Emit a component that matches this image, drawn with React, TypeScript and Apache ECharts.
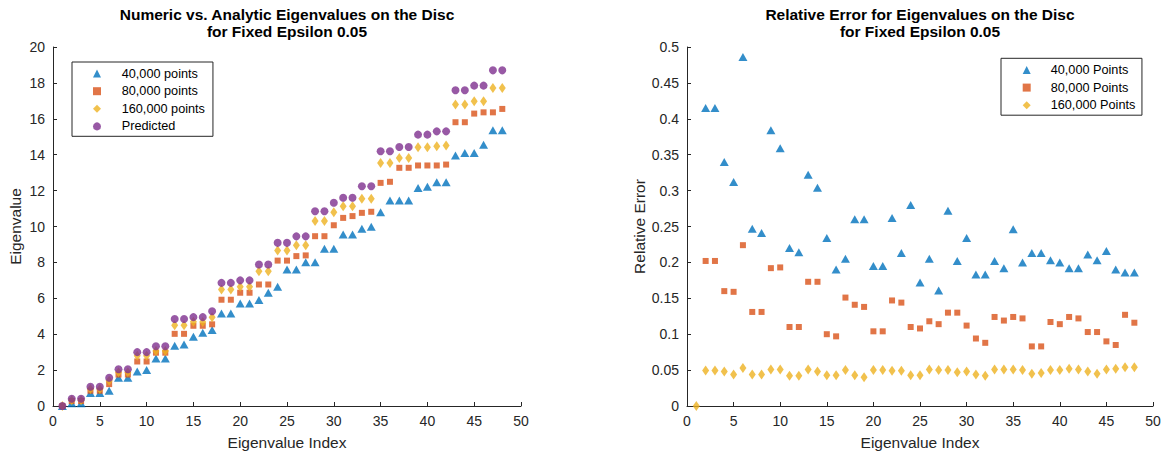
import React, { useEffect, useRef } from "react";
import * as echarts from "echarts";

const FONT = "'Liberation Sans', Arial, Helvetica, sans-serif";
const INK = "#262626";

const indices = [
  1, 2, 3, 4, 5, 6, 7, 8, 9, 10, 11, 12, 13, 14, 15, 16, 17, 18, 19, 20, 21, 22, 23, 24,
  25, 26, 27, 28, 29, 30, 31, 32, 33, 34, 35, 36, 37, 38, 39, 40, 41, 42, 43, 44, 45, 46, 47, 48,
];

// Left chart: eigenvalues
const eig40k = [
  0, 0.15, 0.15, 0.72, 0.72, 0.85, 1.58, 1.58, 1.92, 2.0, 2.65, 2.65, 3.35, 3.42, 3.86, 4.08,
  4.23, 5.16, 5.16, 5.71, 5.71, 5.9, 6.31, 6.64, 7.61, 7.61, 8.01, 8.01, 8.76, 8.76, 9.55, 9.55,
  9.87, 9.98, 10.8, 11.45, 11.45, 11.45, 12.15, 12.21, 12.47, 12.47, 13.95, 14.1, 14.1, 14.56, 15.36, 15.36,
];
const eig80k = [
  0, 0.28, 0.28, 0.85, 0.85, 1.22, 1.75, 1.75, 2.48, 2.48, 2.97, 2.97, 4.02, 4.02, 4.47, 4.47,
  4.55, 5.92, 5.92, 6.31, 6.31, 6.77, 6.77, 8.1, 8.1, 8.35, 8.39, 9.46, 9.46, 10.07, 10.48, 10.58,
  10.76, 10.82, 12.43, 12.49, 13.27, 13.27, 13.4, 13.4, 13.4, 13.45, 15.81, 15.81, 16.29, 16.36, 16.36, 16.55,
];
const eig160k = [
  0, 0.32, 0.32, 0.95, 0.95, 1.4, 1.88, 1.88, 2.8, 2.8, 3.06, 3.06, 4.5, 4.5, 4.7, 4.68,
  4.95, 6.49, 6.49, 6.64, 6.64, 7.51, 7.51, 8.66, 8.66, 8.96, 8.96, 10.3, 10.3, 10.8, 11.13, 11.13,
  11.54, 11.54, 13.54, 13.54, 13.82, 13.82, 14.42, 14.42, 14.47, 14.51, 16.79, 16.79, 16.98, 16.98, 17.72, 17.72,
];
const eigPredicted = [
  0, 0.4, 0.4, 1.07, 1.07, 1.57, 2.05, 2.05, 3.0, 3.0, 3.33, 3.33, 4.85, 4.85, 4.95, 4.95,
  5.28, 6.86, 6.86, 7.0, 7.0, 7.88, 7.88, 9.09, 9.09, 9.45, 9.45, 10.85, 10.85, 11.32, 11.6, 11.6,
  12.24, 12.24, 14.19, 14.19, 14.43, 14.43, 15.12, 15.12, 15.3, 15.3, 17.59, 17.59, 17.85, 17.85, 18.7, 18.7,
];

// Right chart: relative errors
const err40k = [
  null, 0.415, 0.415, 0.34, 0.312, 0.486, 0.247, 0.241, 0.384, 0.359, 0.22, 0.214, 0.322, 0.304, 0.234, 0.19,
  0.205, 0.26, 0.26, 0.195, 0.195, 0.262, 0.213, 0.28, 0.172, 0.205, 0.161, 0.272, 0.202, 0.234, 0.183, 0.183,
  0.202, 0.192, 0.246, 0.2, 0.213, 0.213, 0.203, 0.2, 0.192, 0.192, 0.211, 0.203, 0.216, 0.19, 0.186, 0.186,
];
const err80k = [
  null, 0.202, 0.202, 0.16, 0.159, 0.224, 0.131, 0.131, 0.192, 0.193, 0.11, 0.11, 0.173, 0.173, 0.1, 0.097,
  0.151, 0.141, 0.138, 0.104, 0.104, 0.147, 0.144, 0.11, 0.108, 0.118, 0.114, 0.13, 0.13, 0.112, 0.094, 0.088,
  0.124, 0.119, 0.124, 0.122, 0.083, 0.083, 0.117, 0.114, 0.124, 0.122, 0.103, 0.103, 0.09, 0.085, 0.127, 0.116,
];
const err160k = [
  0, 0.0496, 0.0496, 0.048, 0.044, 0.053, 0.044, 0.044, 0.051, 0.051, 0.042, 0.042, 0.051, 0.048, 0.043, 0.043,
  0.05, 0.043, 0.04, 0.05, 0.05, 0.049, 0.049, 0.043, 0.043, 0.051, 0.05, 0.05, 0.047, 0.048, 0.044, 0.042,
  0.051, 0.051, 0.051, 0.05, 0.045, 0.046, 0.05, 0.05, 0.052, 0.051, 0.048, 0.045, 0.051, 0.052, 0.054, 0.054,
];

const leftNames = ["40,000 points", "80,000 points", "160,000 points", "Predicted"];
const rightNames = ["40,000 Points", "80,000 Points", "160,000 Points"];

const COLORS = { blue: "#0072BD", orange: "#D95319", yellow: "#EDB120", purple: "#7E2F8E" };

const pairs = (vals: (number | null)[]) =>
  indices.map((x, i) => [x, vals[i]]).filter((p) => p[1] !== null);

export default function App() {
  const ref = useRef<HTMLDivElement>(null);

  useEffect(() => {
    if (!ref.current) return;
    const chart = echarts.init(ref.current, undefined, { renderer: "svg" });

    const axisCommon = {
      axisLine: { show: true, onZero: false, lineStyle: { color: INK, width: 1 } },
      axisTick: { show: true, inside: true, length: 4, lineStyle: { color: INK } },
      axisLabel: { color: INK, fontSize: 14, fontFamily: FONT, margin: 8 },
      splitLine: { show: false },
      nameLocation: "middle" as const,
      nameTextStyle: { color: INK, fontSize: 15.5, fontFamily: FONT },
    };

    const triangle = { symbol: "triangle", symbolSize: [9, 8], itemStyle: { color: COLORS.blue } };
    const square = { symbol: "rect", symbolSize: [6, 6], itemStyle: { color: COLORS.orange } };
    const diamond = { symbol: "diamond", symbolSize: [7, 10], itemStyle: { color: COLORS.yellow } };
    const circle = { symbol: "circle", symbolSize: 8, itemStyle: { color: COLORS.purple } };

    const legendCommon = {
      orient: "vertical" as const,
      backgroundColor: "#fff",
      borderColor: INK,
      borderWidth: 1,
      borderRadius: 0,
      itemWidth: 8,
      itemHeight: 8,
      itemGap: 3,
      selectedMode: false,
    };

    const titleStyle = { fontSize: 15.5, fontWeight: "bold", color: "#000", lineHeight: 17, fontFamily: FONT };

    chart.setOption({
      animation: false,
      backgroundColor: "#fff",
      title: [
        {
          text: "Numeric vs. Analytic Eigenvalues on the Disc\nfor Fixed Epsilon 0.05",
          left: 287,
          top: 5.5,
          padding: 0,
          textAlign: "center",
          textStyle: titleStyle,
        },
        {
          text: "Relative Error for Eigenvalues on the Disc\nfor Fixed Epsilon 0.05",
          left: 920,
          top: 5.5,
          padding: 0,
          textAlign: "center",
          textStyle: titleStyle,
        },
      ],
      legend: [
        {
          ...legendCommon,
          data: leftNames,
          left: 72,
          top: 62,
          padding: [4.3, 8, 2.6, 21],
          textStyle: { color: "#000", fontSize: 12.7, fontFamily: FONT, lineHeight: 14.6, padding: [0, 0, 0, 15.7] },
        },
        {
          ...legendCommon,
          data: rightNames,
          left: 1001,
          top: 58.3,
          padding: [4.4, 6.6, 2.7, 21.7],
          textStyle: { color: "#000", fontSize: 12.7, fontFamily: FONT, lineHeight: 14.6, padding: [0, 0, 0, 15] },
        },
      ],
      grid: [
        { left: 53, top: 47, width: 468, height: 359 },
        { left: 687, top: 47, width: 466, height: 359 },
      ],
      xAxis: [
        { ...axisCommon, type: "value", gridIndex: 0, min: 0, max: 50, interval: 5, name: "Eigenvalue Index", nameGap: 28 },
        { ...axisCommon, type: "value", gridIndex: 1, min: 0, max: 50, interval: 5, name: "Eigenvalue Index", nameGap: 28 },
      ],
      yAxis: [
        { ...axisCommon, type: "value", gridIndex: 0, min: 0, max: 20, interval: 2, name: "Eigenvalue", nameGap: 30 },
        { ...axisCommon, type: "value", gridIndex: 1, min: 0, max: 0.5, interval: 0.05, name: "Relative Error", nameGap: 40 },
      ],
      series: [
        { type: "scatter", name: leftNames[0], xAxisIndex: 0, yAxisIndex: 0, data: pairs(eig40k), ...triangle },
        { type: "scatter", name: leftNames[1], xAxisIndex: 0, yAxisIndex: 0, data: pairs(eig80k), ...square },
        { type: "scatter", name: leftNames[2], xAxisIndex: 0, yAxisIndex: 0, data: pairs(eig160k), ...diamond },
        { type: "scatter", name: leftNames[3], xAxisIndex: 0, yAxisIndex: 0, data: pairs(eigPredicted), ...circle },
        { type: "scatter", name: rightNames[0], xAxisIndex: 1, yAxisIndex: 1, data: pairs(err40k), ...triangle },
        { type: "scatter", name: rightNames[1], xAxisIndex: 1, yAxisIndex: 1, data: pairs(err80k), ...square },
        { type: "scatter", name: rightNames[2], xAxisIndex: 1, yAxisIndex: 1, data: pairs(err160k), ...diamond },
      ],
    });

    return () => chart.dispose();
  }, []);

  return (
    <div
      ref={ref}
      style={{ position: "absolute", left: 0, top: 0, width: 1169, height: 456, background: "#fff" }}
    />
  );
}
